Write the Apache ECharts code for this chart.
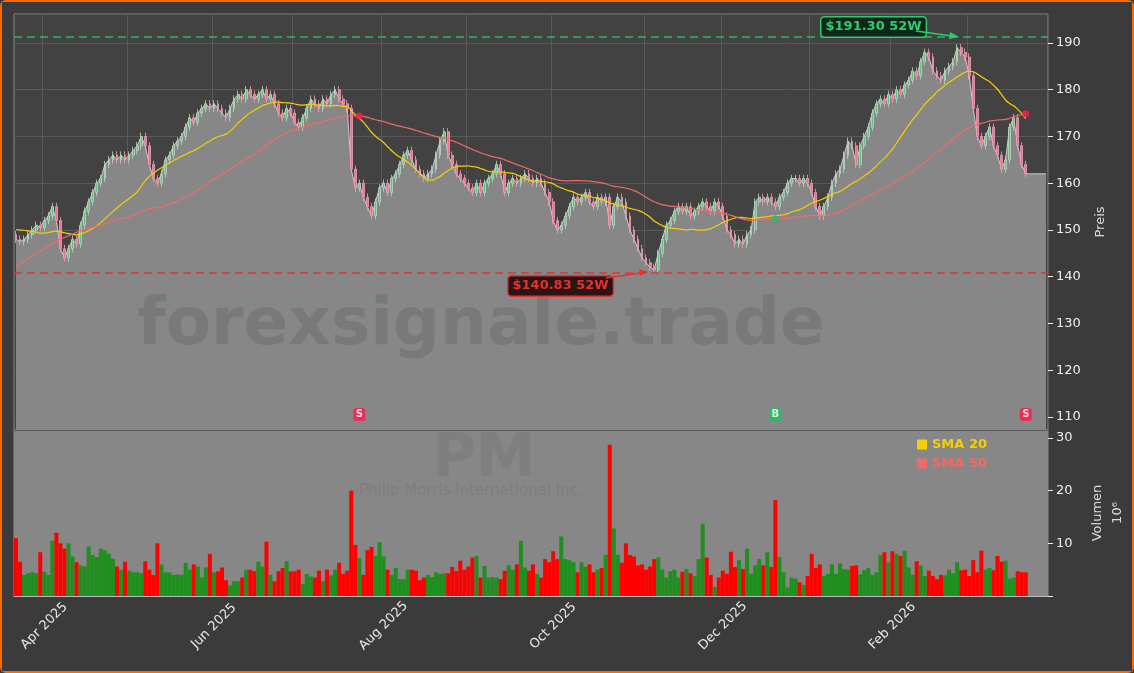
<!DOCTYPE html>
<html><head><meta charset="utf-8">
<script src="https://cdn.jsdelivr.net/npm/echarts@6/dist/echarts.min.js"></script>
<style>html,body{margin:0;padding:0;background:#3b3b3b}#c{width:1134px;height:673px;box-sizing:border-box;border:2px solid #ff6a00;border-radius:6px}</style>
</head><body><div id="c"></div>
<script>
const history = [121,122,120,123,124,125,126,124,125,127,128,126,127,129,130,131,144,146,145,147,149,150,152,151,153,154,155,153,151,152,150,149,151,153,154,155,152,150,151,150,149,148,150,151,149,148,147,148,149];
const closes = [
148,147.5,148,149,150,151,150.5,152,153,155,
152,146,144,146,148,147,151,154,156,158,
160,161,164,165,166,165,166,165,166,167,
168,170,168,164,161,160,162,165,166,168,
169,170,172,174,173,175,176,177,176,177,
176,175,174,176,178,179,178,180,179,178,
179,180,178,179,177,175,174,176,175,173,
172,174,176,178,177,176,178,177,179,180,
178,177,176,163,159,160,157,155,153,156,
159,160,158,161,162,164,166,167,165,163,
162,161,162,163,166,169,171,166,164,162,
161,160,159,158,160,158,160,161,162,164,
162,158,160,161,160,161,162,161,160,161,
160,158,156,152,150,151,153,155,157,156,
157,158,156,155,157,156,157,151,155,157,
156,153,150,148,146,144,143,142,141.5,145,
148,151,152,154,155,154,155,153,154,155,
156,155,154,156,155,153,150,149,147,148,
147,149,150,156,157,156,157,156,155,157,
158,160,161,161,160,161,160,158,155,153,
155,157,160,162,163,166,169,168,164,168,
170,172,175,177,178,177,179,178,180,179,
181,182,184,183,186,188,187,184,183,182,
184,185,186,189,188,187,183,176,170,168,
170,172,168,166,163,165,172,174,168,164,
162];
const volumes = [
11,6.5,4,4.3,4.5,4.3,8.3,4.6,4,10.5,12,10,9,10,7.5,6.4,5.8,5.6,9.4,7.8,
7.4,9,8.7,8,7.1,5.6,5,6.5,4.8,4.5,4.5,4.3,6.6,5,4,10,6,4.5,4.5,4,
4.1,4,6.3,5,6,5.6,3.5,5.4,8,4.5,4.7,5.4,3,2,2.8,2.8,3.5,5,5,4.7,
6.5,5.6,10.3,4,2.8,4.7,5.3,6.6,4.7,4.7,5,2.3,4.2,3.7,3.5,4.8,2.8,5,3.9,5,
6.3,4.2,4.8,20,9.7,7.2,4,8.7,9.3,7.6,10.2,7.5,5,4,5.3,3.2,3.2,5,5,4.8,
3,3.5,4,3.6,4.5,4.2,4.3,4.3,5.5,4.7,6.7,5,5.6,7.3,7.6,3.5,5.7,3.5,3.6,3.5,
3.2,4.8,5.8,5,6,10.5,5.4,4.8,6,4.2,3.5,7,6.4,8.5,7,11.3,7,6.8,6.4,4.5,
6.4,5.6,6,4.5,5,5.3,7.8,28.7,12.8,7.8,6.3,10,7.8,7.5,5.8,6,5,5.6,7,7.3,
5,3.5,4.7,5,3.5,4.6,5.1,4.3,3.8,7,13.7,7.3,4,1.7,3.5,4.8,4.2,8.4,5.5,6.8,
5.1,9,4.2,5.8,7,5.8,8.3,5.5,18.2,7.4,4.5,1.6,3.5,3.3,2.6,2.1,3.8,8,5.3,6,
3.8,4.2,6,4.2,6.2,5.1,5,5.7,5.8,4.1,4.9,5.3,4,4.5,7.8,8.3,6.4,8.5,8,7.6,
8.6,5.4,4,6.6,5.8,3.8,4.8,3.8,3.2,4,3.9,5,4.3,6.4,4.9,5,3.8,6.8,4.5,8.6,
5,5.3,4.9,7.6,6.5,6.7,3.3,3.5,4.7,4.5,4.5];
const holidays = ['2025-04-18','2025-05-26','2025-06-19','2025-07-04','2025-09-01','2025-11-27','2025-12-25','2026-01-01','2026-01-19','2026-02-16'];
const startDate = '2025-03-21';
const padDays = 5;
const high52 = 191.30, low52 = 140.83;
const signalIdx = [85, 188, 250];
const signalType = ['S', 'B', 'S'];
const monthNames = ['Jan','Feb','Mar','Apr','May','Jun','Jul','Aug','Sep','Oct','Nov','Dec'];

const dates = [];
let d = new Date(startDate + 'T12:00:00Z');
while (dates.length < closes.length + padDays) {
  const wd = d.getUTCDay(); const s = d.toISOString().slice(0,10);
  if (wd !== 0 && wd !== 6 && !holidays.includes(s)) dates.push(s);
  d = new Date(d.getTime() + 86400000);
}
const monthStart = i => i > 0 && dates[i].slice(5,7) !== dates[i-1].slice(5,7);
const labelMonth = i => monthStart(i) && (+dates[i].slice(5,7)) % 2 === 0;
const fmt = v => monthNames[+v.slice(5,7)-1] + ' ' + v.slice(0,4);

const all = history.concat(closes);
function sma(n){ return closes.map((_, i) => { const k = history.length + i; let s = 0; for (let j = k-n+1; j <= k; j++) s += all[j]; return +(s/n).toFixed(2); }); }
const sma20 = sma(20), sma50 = sma(50);
const ohlc = closes.map((c, i) => { const o = i ? closes[i-1] : history[history.length-1]; return [o, c, Math.min(o,c)-0.8, Math.max(o,c)+0.8]; });
const up = ohlc.map(r => r[1] >= r[0]);
const areaData = closes.concat(Array(padDays).fill(closes[closes.length-1]));

const chart = echarts.init(document.getElementById('c'));
const G = '#5a5a5a';
chart.setOption({
  backgroundColor: '#3b3b3b',
  animation: false,
  textStyle: { fontFamily: 'DejaVu Sans' },
  grid: [
    { left: 12, right: 84, top: 12, height: 416, show: true, backgroundColor: '#424242', borderColor: '#8a8a8a', outerBoundsMode: 'none', containLabel: false },
    { left: 12, right: 84, top: 428, height: 166, show: true, backgroundColor: '#878787', borderColor: '#8a8a8a', outerBoundsMode: 'none', containLabel: false }
  ],
  legend: { orient: 'vertical', left: 910, top: 431, itemWidth: 10, itemHeight: 10, itemGap: 6, icon: 'rect',
    data: [{ name: 'SMA 20', textStyle: { color: '#f5d000' } }, { name: 'SMA 50', textStyle: { color: '#f06a6a' } }],
    textStyle: { fontWeight: 'bold', fontSize: 13 } },
  xAxis: [
    { type: 'category', data: dates, gridIndex: 0, boundaryGap: true, axisLabel: { show: false }, axisTick: { show: false }, axisLine: { show: false },
      splitLine: { show: true, interval: (i) => monthStart(i), lineStyle: { color: G } } },
    { type: 'category', data: dates, gridIndex: 1, boundaryGap: true,
      axisLine: { lineStyle: { color: '#bbb' } },
      axisTick: { interval: (i) => monthStart(i), lineStyle: { color: '#eee' }, length: 4 },
      axisLabel: { interval: (i) => labelMonth(i), formatter: fmt, rotate: 45, align: 'center', verticalAlign: 'middle', color: '#e8e8e8', fontSize: 13, margin: 30 },
      splitLine: { show: false } }
  ],
  yAxis: [
    { type: 'value', gridIndex: 0, position: 'right', min: 107.2, max: 196.2, splitNumber: 9,
      axisLabel: { color: '#eee', fontSize: 13, showMinLabel: false, showMaxLabel: false }, axisTick: { show: true, lineStyle: { color: '#eee' } }, axisLine: { show: false },
      splitLine: { lineStyle: { color: G } },
      name: 'Preis', nameLocation: 'middle', nameRotate: 90, nameGap: 46, nameTextStyle: { color: '#ddd', fontSize: 13 } },
    { type: 'value', gridIndex: 1, position: 'right', min: 0, max: 31.5, interval: 10,
      axisLabel: { color: '#eee', fontSize: 13, formatter: v => v === 0 ? '' : v }, axisTick: { show: true, lineStyle: { color: '#eee' } }, axisLine: { show: false },
      splitLine: { show: false },
      name: 'Volumen\n10⁶', nameLocation: 'middle', nameRotate: 90, nameGap: 40, nameTextStyle: { color: '#ddd', fontSize: 13, lineHeight: 20 } }
  ],
  series: [
    { type: 'line', name: 'Close', data: areaData, xAxisIndex: 0, yAxisIndex: 0, symbol: 'none', z: 1,
      lineStyle: { color: '#cfcfcf', width: 1 }, areaStyle: { color: '#878787', opacity: 1 },
      markLine: { silent: true, symbol: 'none', label: { show: false },
        data: [ { yAxis: high52, lineStyle: { color: '#2fb85a', type: [8,5], width: 1.5 } },
                { yAxis: low52, lineStyle: { color: '#e03434', type: [8,5], width: 1.5 } } ] } },
    { type: 'candlestick', name: 'PM', data: ohlc, xAxisIndex: 0, yAxisIndex: 0, barWidth: '55%', z: 3,
      itemStyle: { color: '#62c37c', color0: '#f0708f', borderColor: '#b8d8c0', borderColor0: '#f0a0b4', borderWidth: 0.8 } },
    { type: 'line', name: 'SMA 20', data: sma20, xAxisIndex: 0, yAxisIndex: 0, symbol: 'none', smooth: true, z: 4, lineStyle: { color: '#f5d000', width: 1.2 }, itemStyle: { color: '#f5d000' } },
    { type: 'line', name: 'SMA 50', data: sma50, xAxisIndex: 0, yAxisIndex: 0, symbol: 'none', smooth: true, z: 4, lineStyle: { color: '#f06a6a', width: 1.2 }, itemStyle: { color: '#f06a6a' } },
    { type: 'scatter', data: signalIdx.map((i, k) => ({ value: [i, sma50[i]], itemStyle: { color: signalType[k] === 'B' ? '#1fc060' : '#ff1a4b' } })),
      xAxisIndex: 0, yAxisIndex: 0, symbolSize: 7, z: 5 },
    { type: 'scatter', data: signalIdx.map((i, k) => ({ value: [i, 110.5], label: { formatter: signalType[k] }, itemStyle: { color: signalType[k] === 'B' ? '#1fc060' : '#ff1a4b' } })),
      xAxisIndex: 0, yAxisIndex: 0, symbol: 'roundRect', symbolSize: [12, 13], z: 5,
      label: { show: true, position: 'inside', color: '#fff', fontSize: 10, fontWeight: 'bold' } },
    { type: 'bar', name: 'Volume', xAxisIndex: 1, yAxisIndex: 1, barCategoryGap: '0%',
      data: volumes.map((v, i) => ({ value: v, itemStyle: { color: up[i] ? '#1f8f1f' : '#ff0000' } })) }
  ],
  graphic: [
    { type: 'text', left: 135, top: 292, z: 100, silent: true, style: { text: 'forexsignale.trade', font: 'bold 66px DejaVu Sans', fill: 'rgba(50,50,50,0.16)' } },
    { type: 'text', left: 430, top: 428, z: 100, silent: true, style: { text: 'PM', font: 'bold 60px DejaVu Sans', fill: 'rgba(60,60,60,0.1)' } },
    { type: 'text', left: 357, top: 482, z: 100, silent: true, style: { text: 'Philip Morris International Inc.', font: '15px DejaVu Sans', fill: 'rgba(60,60,60,0.12)' } },
    { type: 'text', left: 818, top: 14, z: 110, style: { text: '$191.30 52W', font: 'bold 13px DejaVu Sans', fill: '#2ecc71', backgroundColor: '#10261a', borderColor: '#2ecc71', borderWidth: 1.5, borderRadius: 3, padding: [3, 4] } },
    { type: 'line', z: 110, shape: { x1: 914, y1: 29, x2: 950, y2: 34 }, style: { stroke: '#2ecc71', lineWidth: 1.5 } },
    { type: 'polygon', z: 110, shape: { points: [[957, 35], [948, 30], [947, 37]] }, style: { fill: '#2ecc71' } },
    { type: 'text', left: 505, top: 273, z: 110, style: { text: '$140.83 52W', font: 'bold 13px DejaVu Sans', fill: '#e83030', backgroundColor: '#2a1414', borderColor: '#e83030', borderWidth: 1.5, borderRadius: 3, padding: [3, 4] } },
    { type: 'line', z: 110, shape: { x1: 604, y1: 276, x2: 638, y2: 271 }, style: { stroke: '#e83030', lineWidth: 1.5 } },
    { type: 'polygon', z: 110, shape: { points: [[646, 270], [637, 267], [638, 274]] }, style: { fill: '#e83030' } }
  ]
});
</script></body></html>
